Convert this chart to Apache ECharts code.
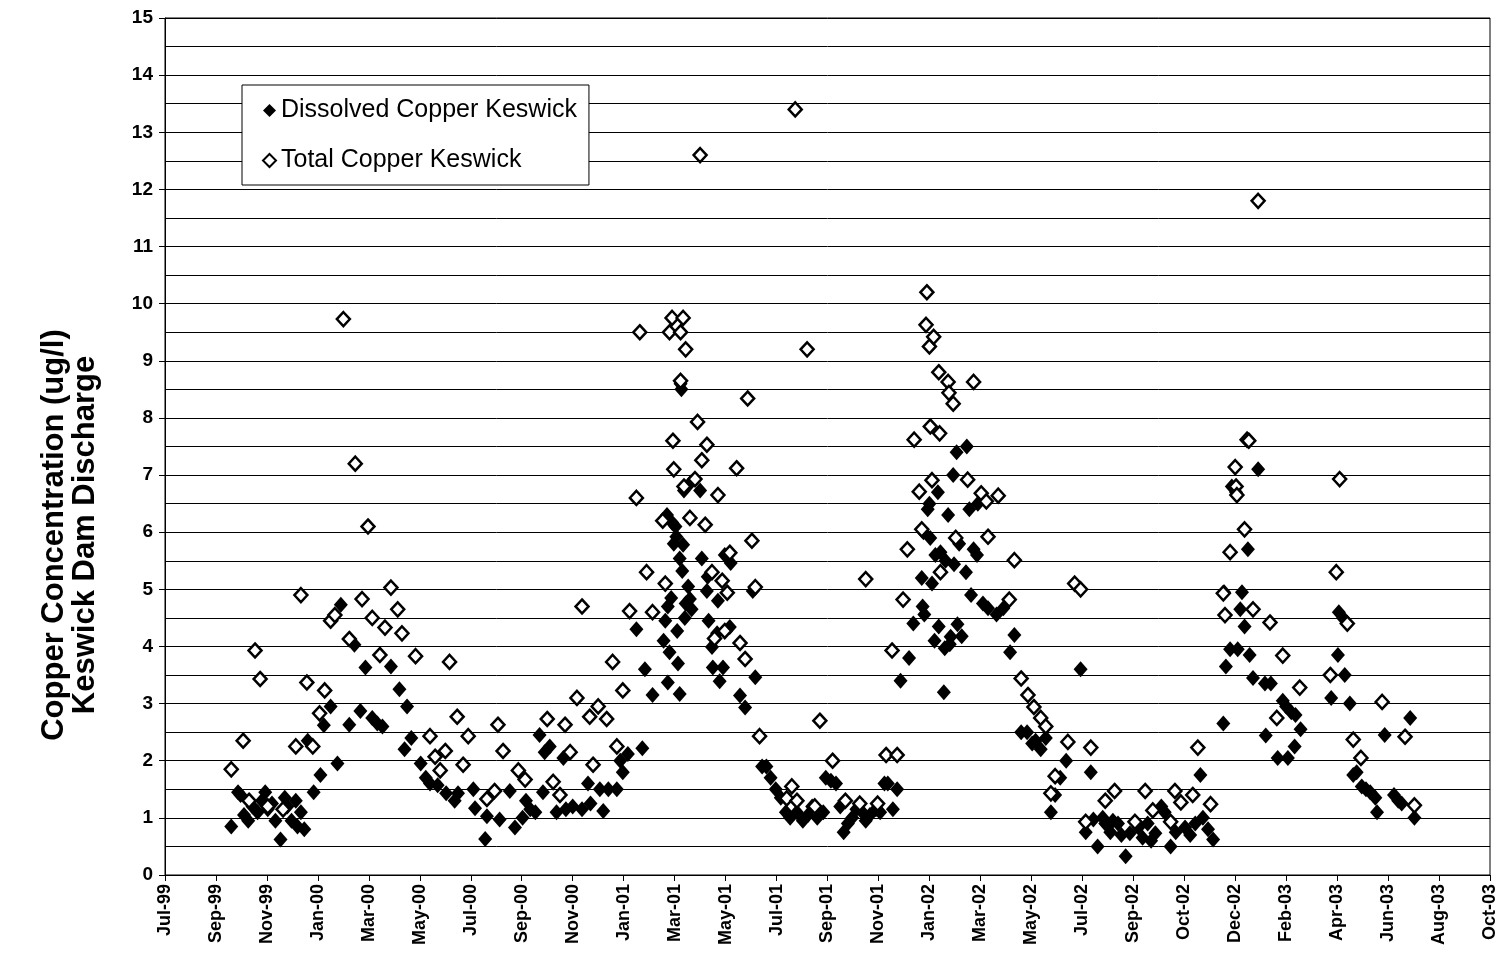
<!DOCTYPE html>
<html>
<head>
<meta charset="utf-8">
<title>Copper Concentration – Keswick Dam Discharge</title>
<script src="https://cdn.jsdelivr.net/npm/echarts@6/dist/echarts.min.js"></script>
<style>
  html, body { margin: 0; padding: 0; background: #fff; }
  #chart { width: 1507px; height: 967px; }
</style>
</head>
<body>
<div id="chart"></div>
<script>
// Sample dates and copper concentrations (ug/l) below Keswick Dam
const dissolvedCopper = [
  ['1999-10-05',0.85],['1999-10-13',1.45],['1999-10-16',1.4],['1999-10-20',1.05],['1999-10-25',0.95],['1999-10-30',1.2],
  ['1999-11-05',1.1],['1999-11-10',1.3],['1999-11-14',1.45],['1999-11-17',1.15],['1999-11-22',1.25],['1999-11-26',0.95],
  ['1999-12-02',0.62],['1999-12-07',1.35],['1999-12-10',1.2],['1999-12-15',0.95],['1999-12-20',1.3],['1999-12-22',0.85],
  ['1999-12-26',1.1],['1999-12-30',0.8],
  ['2000-01-03',2.35],['2000-01-10',1.45],['2000-01-18',1.75],['2000-01-22',2.62],['2000-01-30',2.95],['2000-02-07',1.95],
  ['2000-02-11',4.73],['2000-02-21',2.63],['2000-02-27',4.03],['2000-03-05',2.87],['2000-03-11',3.63],['2000-03-19',2.75],
  ['2000-03-25',2.65],['2000-03-31',2.6],['2000-04-10',3.65],['2000-04-20',3.25],['2000-04-26',2.2],['2000-04-29',2.95],
  ['2000-05-04',2.4],['2000-05-15',1.95],['2000-05-21',1.7],['2000-05-26',1.6],['2000-06-04',1.57],['2000-06-14',1.43],
  ['2000-06-24',1.3],['2000-06-28',1.43],['2000-07-16',1.5],['2000-07-18',1.17],['2000-07-30',0.63],['2000-08-01',1.03],
  ['2000-08-16',0.97],['2000-08-28',1.47],['2000-09-03',0.83],['2000-09-12',1.0],['2000-09-16',1.3],['2000-09-21',1.15],
  ['2000-09-27',1.1],['2000-10-02',2.45],['2000-10-06',1.45],['2000-10-08',2.15],['2000-10-14',2.25],['2000-10-22',1.1],
  ['2000-10-30',2.05],['2000-11-02',1.15],['2000-11-10',1.2],['2000-11-21',1.15],['2000-11-28',1.6],['2000-12-01',1.25],
  ['2000-12-12',1.5],['2000-12-16',1.12],['2000-12-22',1.5],
  ['2001-01-01',1.5],['2001-01-05',2.0],['2001-01-08',1.8],['2001-01-14',2.12],['2001-01-24',4.3],['2001-01-31',2.22],
  ['2001-02-03',3.6],['2001-02-12',3.15],['2001-02-25',4.1],['2001-02-27',4.45],['2001-03-01',6.3],['2001-03-02',3.37],
  ['2001-03-02',4.7],['2001-03-04',3.9],['2001-03-06',4.85],['2001-03-07',6.17],['2001-03-09',5.8],['2001-03-11',6.1],
  ['2001-03-12',5.92],['2001-03-13',4.27],['2001-03-14',3.7],['2001-03-16',5.54],['2001-03-16',3.17],['2001-03-17',8.6],
  ['2001-03-18',8.5],['2001-03-19',5.32],['2001-03-20',5.78],['2001-03-21',6.73],['2001-03-22',4.5],['2001-03-23',4.75],
  ['2001-03-26',5.05],['2001-03-28',4.83],['2001-03-29',6.87],['2001-03-30',4.65],['2001-04-09',6.73],['2001-04-11',5.54],
  ['2001-04-17',4.97],['2001-04-18',5.22],['2001-04-19',4.45],['2001-04-23',3.99],['2001-04-24',3.63],['2001-04-29',4.23],
  ['2001-04-30',4.8],['2001-05-02',3.39],['2001-05-06',3.63],['2001-05-08',5.6],['2001-05-14',4.34],['2001-05-15',5.46],
  ['2001-05-26',3.14],['2001-06-01',2.93],['2001-06-10',4.97],['2001-06-13',3.46],['2001-06-21',1.9],['2001-06-26',1.9],
  ['2001-07-01',1.7],['2001-07-07',1.5],['2001-07-13',1.35],['2001-07-19',1.1],['2001-07-24',1.0],['2001-08-01',1.1],
  ['2001-08-08',0.95],['2001-08-14',1.05],['2001-08-19',1.2],['2001-08-25',1.0],['2001-09-01',1.1],['2001-09-04',1.7],
  ['2001-09-10',1.65],['2001-09-16',1.6],['2001-09-21',1.2],['2001-09-25',0.75],['2001-09-30',0.9],['2001-10-05',1.0],
  ['2001-10-10',1.15],['2001-10-17',1.1],['2001-10-21',0.95],['2001-10-26',1.05],['2001-11-02',1.15],['2001-11-07',1.1],
  ['2001-11-12',1.6],['2001-11-16',1.6],['2001-11-22',1.15],['2001-11-27',1.5],['2001-12-01',3.4],['2001-12-11',3.8],
  ['2001-12-16',4.4],['2001-12-26',5.2],['2001-12-27',4.7],['2001-12-28',6.0],['2001-12-29',4.56],
  ['2002-01-02',6.4],['2002-01-04',6.5],['2002-01-05',5.9],['2002-01-07',5.1],['2002-01-10',4.1],['2002-01-11',5.6],
  ['2002-01-14',6.7],['2002-01-15',4.35],['2002-01-17',5.65],['2002-01-21',3.2],['2002-01-22',3.97],['2002-01-23',5.5],
  ['2002-01-26',6.3],['2002-01-28',4.04],['2002-01-29',4.17],['2002-02-01',7.0],['2002-02-02',5.44],['2002-02-05',7.4],
  ['2002-02-06',4.39],['2002-02-08',5.8],['2002-02-11',4.18],['2002-02-16',5.3],['2002-02-17',7.5],['2002-02-20',6.4],
  ['2002-02-22',4.9],['2002-02-25',5.7],['2002-03-01',5.6],['2002-03-02',6.5],['2002-03-08',4.75],['2002-03-14',4.67],
  ['2002-03-24',4.56],['2002-04-01',4.67],['2002-04-09',3.9],['2002-04-14',4.2],['2002-04-22',2.5],['2002-04-29',2.5],
  ['2002-05-05',2.3],['2002-05-09',2.35],['2002-05-15',2.2],['2002-05-21',2.4],['2002-05-27',1.1],['2002-06-01',1.4],
  ['2002-06-07',1.7],['2002-06-14',2.0],['2002-07-01',3.6],['2002-07-07',0.75],['2002-07-13',1.8],['2002-07-16',0.97],
  ['2002-07-21',0.5],['2002-07-27',1.0],['2002-07-30',0.9],['2002-08-05',0.75],['2002-08-08',0.95],['2002-08-14',0.9],
  ['2002-08-18',0.7],['2002-08-23',0.33],['2002-08-28',0.73],['2002-09-07',0.83],['2002-09-12',0.65],['2002-09-18',0.9],
  ['2002-09-22',0.6],['2002-09-27',0.73],['2002-10-04',1.2],['2002-10-08',1.1],['2002-10-15',0.5],['2002-10-21',0.75],
  ['2002-11-01',0.83],['2002-11-07',0.7],['2002-11-13',0.9],['2002-11-19',1.75],['2002-11-22',1.0],['2002-11-28',0.8],
  ['2002-12-04',0.62],['2002-12-16',2.65],['2002-12-17',4.95],['2002-12-19',3.65],['2002-12-24',3.95],['2002-12-26',6.8],
  ['2002-12-31',6.7],
  ['2003-01-02',3.95],['2003-01-05',4.65],['2003-01-07',4.95],['2003-01-10',4.35],['2003-01-14',5.7],['2003-01-16',3.85],
  ['2003-01-20',3.45],['2003-01-26',7.1],['2003-02-03',3.35],['2003-02-04',2.44],['2003-02-10',3.35],['2003-02-18',2.05],
  ['2003-02-24',3.05],['2003-02-28',2.95],['2003-03-02',2.05],['2003-03-06',2.85],['2003-03-10',2.25],['2003-03-11',2.8],
  ['2003-03-17',2.55],['2003-04-22',3.1],['2003-04-30',3.85],['2003-05-01',4.6],['2003-05-06',4.5],['2003-05-08',3.5],
  ['2003-05-14',3.0],['2003-05-18',1.75],['2003-05-22',1.8],['2003-05-28',1.55],['2003-06-02',1.5],['2003-06-07',1.45],
  ['2003-06-13',1.35],['2003-06-15',1.1],['2003-06-24',2.45],['2003-07-05',1.4],['2003-07-10',1.3],['2003-07-14',1.25],
  ['2003-07-24',2.75],['2003-07-29',1.0]
];

const totalCopper = [
  ['1999-10-05',1.85],['1999-10-19',2.35],['1999-10-26',1.3],['1999-11-02',3.93],['1999-11-08',3.43],['1999-11-17',1.2],
  ['1999-12-05',1.15],['1999-12-20',2.25],['1999-12-26',4.9],
  ['2000-01-02',3.37],['2000-01-09',2.25],['2000-01-17',2.83],['2000-01-23',3.23],['2000-01-30',4.45],['2000-02-04',4.55],
  ['2000-02-14',9.73],['2000-02-21',4.13],['2000-02-28',7.2],['2000-03-07',4.83],['2000-03-14',6.1],['2000-03-19',4.5],
  ['2000-03-28',3.85],['2000-04-03',4.33],['2000-04-10',5.03],['2000-04-18',4.65],['2000-04-23',4.23],['2000-05-09',3.83],
  ['2000-05-26',2.43],['2000-06-01',2.07],['2000-06-07',1.83],['2000-06-13',2.17],['2000-06-18',3.73],['2000-06-27',2.77],
  ['2000-07-04',1.93],['2000-07-10',2.43],['2000-08-01',1.33],['2000-08-10',1.47],['2000-08-14',2.63],['2000-08-20',2.17],
  ['2000-09-07',1.83],['2000-09-15',1.67],['2000-10-11',2.73],['2000-10-18',1.63],['2000-10-26',1.4],['2000-11-01',2.63],
  ['2000-11-07',2.15],['2000-11-15',3.1],['2000-11-21',4.7],['2000-11-30',2.77],['2000-12-04',1.93],['2000-12-10',2.95],
  ['2000-12-20',2.73],['2000-12-27',3.73],
  ['2001-01-01',2.25],['2001-01-08',3.23],['2001-01-16',4.62],['2001-01-24',6.6],['2001-01-28',9.5],['2001-02-05',5.3],
  ['2001-02-12',4.6],['2001-02-24',6.2],['2001-02-27',5.1],['2001-03-04',9.5],['2001-03-07',9.75],['2001-03-08',7.6],
  ['2001-03-09',7.1],['2001-03-17',9.5],['2001-03-17',8.65],['2001-03-20',9.75],['2001-03-21',6.8],['2001-03-23',9.2],
  ['2001-03-28',6.25],['2001-04-03',6.93],['2001-04-06',7.93],['2001-04-09',12.6],['2001-04-11',7.26],['2001-04-15',6.13],
  ['2001-04-17',7.53],['2001-04-23',5.3],['2001-04-26',4.14],['2001-04-30',6.65],['2001-05-05',5.15],['2001-05-08',4.27],
  ['2001-05-11',4.94],['2001-05-14',5.64],['2001-05-22',7.12],['2001-05-26',4.06],['2001-06-01',3.78],['2001-06-04',8.34],
  ['2001-06-09',5.85],['2001-06-13',5.04],['2001-06-18',2.43],['2001-07-20',1.34],['2001-07-26',1.55],['2001-07-30',13.4],
  ['2001-08-01',1.3],['2001-08-13',9.2],['2001-08-22',1.2],['2001-08-28',2.7],['2001-09-12',2.0],['2001-09-27',1.3],
  ['2001-10-14',1.25],['2001-10-21',5.18],['2001-11-04',1.25],['2001-11-14',2.1],['2001-11-21',3.93],['2001-11-27',2.1],
  ['2001-12-04',4.82],['2001-12-09',5.7],['2001-12-17',7.62],['2001-12-23',6.71],['2001-12-26',6.05],['2001-12-31',9.63],
  ['2002-01-01',10.2],['2002-01-04',9.25],['2002-01-05',7.85],['2002-01-07',6.91],['2002-01-09',9.42],['2002-01-15',8.8],
  ['2002-01-16',7.73],['2002-01-17',5.3],['2002-01-26',8.63],['2002-01-27',8.44],['2002-02-01',8.25],['2002-02-04',5.9],
  ['2002-02-18',6.92],['2002-02-25',8.63],['2002-03-06',6.68],['2002-03-12',6.54],['2002-03-14',5.92],['2002-03-26',6.64],
  ['2002-04-08',4.82],['2002-04-14',5.51],['2002-04-22',3.44],['2002-04-30',3.15],['2002-05-07',2.94],['2002-05-15',2.75],
  ['2002-05-21',2.6],['2002-05-27',1.43],['2002-06-01',1.73],['2002-06-16',2.33],['2002-06-24',5.1],['2002-07-01',5.0],
  ['2002-07-07',0.93],['2002-07-13',2.23],['2002-07-30',1.3],['2002-08-10',1.47],['2002-09-03',0.93],['2002-09-15',1.47],
  ['2002-09-24',1.13],['2002-10-15',0.93],['2002-10-20',1.47],['2002-10-27',1.27],['2002-11-10',1.4],['2002-11-16',2.23],
  ['2002-12-01',1.24],['2002-12-16',4.93],['2002-12-18',4.55],['2002-12-24',5.65],['2002-12-30',7.14],['2002-12-31',6.8],
  ['2003-01-01',6.65],['2003-01-10',6.05],['2003-01-13',7.62],['2003-01-15',7.6],['2003-01-20',4.65],['2003-01-26',11.8],
  ['2003-02-09',4.42],['2003-02-17',2.75],['2003-02-24',3.84],['2003-03-16',3.28],['2003-04-21',3.5],['2003-04-28',5.3],
  ['2003-05-02',6.93],['2003-05-11',4.4],['2003-05-18',2.37],['2003-05-27',2.05],['2003-06-21',3.03],['2003-07-18',2.42],
  ['2003-07-29',1.22]
];

// Date axis ticks: one every 60 days starting 19 Jul 1999
const xTickLabels = ['Jul-99','Sep-99','Nov-99','Jan-00','Mar-00','May-00','Jul-00','Sep-00','Nov-00',
  'Jan-01','Mar-01','May-01','Jul-01','Sep-01','Nov-01','Jan-02','Mar-02','May-02','Jul-02',
  'Sep-02','Oct-02','Dec-02','Feb-03','Apr-03','Jun-03','Aug-03','Oct-03'];
const seriesNames = ['Dissolved Copper Keswick', 'Total Copper Keswick'];
const yAxisTitle = 'Copper Concentration (ug/l)\nKeswick Dam Discharge';

// Spreadsheet-style day serials (day 25569 = 1970-01-01)
const AXIS_START = 36360;   // 19 Jul 1999
const AXIS_STEP = 60;
const AXIS_END = AXIS_START + AXIS_STEP * (xTickLabels.length - 1);

function toSerial(iso) {
  const [y, m, d] = iso.split('-').map(Number);
  return Date.UTC(y, m - 1, d) / 86400000 + 25569;
}
const toPoints = rows => rows.map(([d, v]) => [toSerial(d), v]);

const FONT = '"Liberation Sans", Arial, sans-serif';

const chart = echarts.init(document.getElementById('chart'), null, { renderer: 'canvas' });
chart.setOption({
  animation: false,
  backgroundColor: '#fff',
  grid: {
    left: 165, right: 17, top: 18, bottom: 92,
    show: true, borderColor: '#000', borderWidth: 1, backgroundColor: 'transparent'
  },
  // rotated two-line axis title, sitting a little below the plot's mid-height
  graphic: [{
    type: 'text',
    x: 70, y: 535,
    rotation: Math.PI / 2,
    style: {
      text: yAxisTitle,
      fontFamily: FONT, fontSize: 31, fontWeight: 'bold', fill: '#000',
      lineHeight: 31,
      align: 'center', verticalAlign: 'middle'
    }
  }],
  legend: {
    orient: 'vertical',
    left: 242, top: 85,
    padding: [13, 12, 12, 20],
    itemGap: 25,
    itemWidth: 13, itemHeight: 13,
    itemTextGap: 7,
    backgroundColor: '#fff',
    borderColor: '#000',
    borderWidth: 1,
    borderRadius: 0,
    selectedMode: false,
    textStyle: { fontFamily: FONT, fontSize: 25, color: '#000' },
    data: seriesNames
  },
  xAxis: {
    type: 'value',
    min: AXIS_START, max: AXIS_END, interval: AXIS_STEP,
    axisLine: { show: true, lineStyle: { color: '#000', width: 1 } },
    axisTick: { show: true, inside: false, length: 6, lineStyle: { color: '#000' } },
    splitLine: { show: false },
    axisLabel: {
      rotate: 90, margin: 9,
      fontFamily: FONT, fontSize: 18, fontWeight: 'bold', color: '#000',
      showMinLabel: true, showMaxLabel: true,
      formatter: v => xTickLabels[Math.round((v - AXIS_START) / AXIS_STEP)] || ''
    }
  },
  yAxis: [
    {
      // half-unit grid lines
      type: 'value', min: 0, max: 15, interval: 0.5,
      axisLine: { show: true, lineStyle: { color: '#000', width: 1 } },
      axisTick: { show: false },
      axisLabel: { show: false },
      splitLine: { show: true, lineStyle: { color: '#000', width: 1 } }
    },
    {
      // integer labels and ticks
      type: 'value', min: 0, max: 15, interval: 1, position: 'left', offset: 0,
      axisLine: { show: false },
      axisTick: { show: true, inside: false, length: 6, lineStyle: { color: '#000' } },
      splitLine: { show: false },
      axisLabel: { margin: 12, fontFamily: FONT, fontSize: 19, fontWeight: 'bold', color: '#000' }
    }
  ],
  series: [
    {
      name: seriesNames[0],
      type: 'scatter',
      yAxisIndex: 0,
      symbol: 'diamond',
      symbolSize: [14, 16],
      itemStyle: { color: '#000', borderColor: '#000', borderWidth: 0, opacity: 1 },
      data: toPoints(dissolvedCopper)
    },
    {
      name: seriesNames[1],
      type: 'scatter',
      yAxisIndex: 0,
      symbol: 'diamond',
      symbolSize: [13, 14],
      itemStyle: { color: '#fff', borderColor: '#000', borderWidth: 2.5, opacity: 1 },
      data: toPoints(totalCopper)
    }
  ]
});
</script>
</body>
</html>
